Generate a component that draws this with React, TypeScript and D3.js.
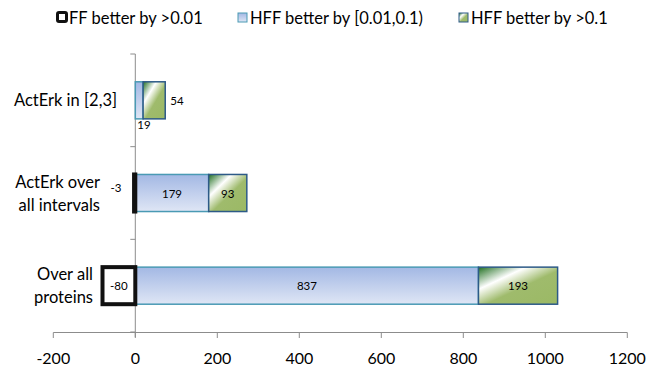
import React from "react";
import * as d3 from "d3";

const categories = ["ActErk in [2,3]", "ActErk over all intervals", "Over all proteins"];
const categoryLines = [["ActErk in [2,3]"], ["ActErk over", "all intervals"], ["Over all", "proteins"]];
const ffValues = [0, -3, -80];
const hffMidValues = [19, 179, 837];
const hffHighValues = [54, 93, 193];
const xTicks = [-200, 0, 200, 400, 600, 800, 1000, 1200];
const seriesNames = ["FF better by >0.01", "HFF better by [0.01,0.1)", "HFF better by >0.1"];

const W = 646, H = 372;
const FONT = "Lato, 'Open Sans', sans-serif";
// label right edges per category (layout)
const labelRight = [117, 100, 93];

export default function App() {
  const x = d3.scaleLinear().domain([-200, 1200]).range([53.3, 627.3]);
  const y = d3.scaleBand<string>().domain(categories).range([54, 332]).paddingInner(0.6).paddingOuter(0.3);
  const bw = y.bandwidth();
  const x0 = x(0);
  return (
    <svg width={W} height={H} style={{ position: "absolute", left: 0, top: 0 }} fontFamily={FONT}>
      <defs>
        <linearGradient id="blueG" x1="0" y1="0" x2="0" y2="1">
          <stop offset="0" stopColor="#a3b8e4" />
          <stop offset="1" stopColor="#dfe6f5" />
        </linearGradient>
        <linearGradient id="greenG" x1="0" y1="0" x2="1" y2="1" gradientUnits="objectBoundingBox">
          <stop offset="0" stopColor="#1f6e1f" />
          <stop offset="0.3" stopColor="#ffffff" />
          <stop offset="0.55" stopColor="#9fbb6c" />
          <stop offset="1" stopColor="#9bb965" />
        </linearGradient>
      </defs>
      {/* axes */}
      <line x1={x0} x2={x0} y1={54} y2={337} stroke="#8c8c8c" strokeWidth={1} />
      {[0, 1, 2, 3].map((i) => {
        const yy = 54 + (i * (332 - 54)) / 3;
        return <line key={i} x1={x0 - 5} x2={x0} y1={yy} y2={yy} stroke="#8c8c8c" />;
      })}
      <line x1={x(-200)} x2={x(1200)} y1={332.5} y2={332.5} stroke="#8c8c8c" />
      {xTicks.map((t) => (
        <g key={t}>
          <line x1={x(t)} x2={x(t)} y1={332.5} y2={338} stroke="#8c8c8c" />
          <text x={x(t)} y={364} textAnchor="middle" fontSize={16} fill="#000">{t}</text>
        </g>
      ))}
      {categories.map((c, i) => {
        const yc = (y(c) as number) + bw / 2;
        const lines = categoryLines[i];
        const lh = 23;
        return lines.map((ln, j) => (
          <text key={c + j} x={labelRight[i]} y={yc + (j - (lines.length - 1) / 2) * lh} textAnchor="end" dominantBaseline="central" fontSize={16.5} fill="#000">{ln}</text>
        ));
      })}
      {/* bars */}
      {categories.map((c, i) => {
        const yt = y(c) as number;
        const ff = ffValues[i], mid = hffMidValues[i], hi = hffHighValues[i];
        const midEnd = x(mid);
        const hiEnd = x(mid + hi);
        return (
          <g key={c}>
            <rect x={x0} y={yt} width={midEnd - x0} height={bw} fill="url(#blueG)" stroke="#4a9ab4" strokeWidth={1.5} />
            <rect x={midEnd} y={yt} width={hiEnd - midEnd} height={bw} fill="url(#greenG)" stroke="#2d5a87" strokeWidth={1.5} />
            {ff !== 0 && (
              <rect x={x(ff)} y={yt} width={x0 - x(ff)} height={bw} fill="#fff" stroke="#111" strokeWidth={4} />
            )}
          </g>
        );
      })}
      {/* data labels */}
      {categories.map((c, i) => {
        const yt = y(c) as number;
        const yc = yt + bw / 2;
        const ff = ffValues[i], mid = hffMidValues[i], hi = hffHighValues[i];
        const midEnd = x(mid);
        const hiEnd = x(mid + hi);
        const items: React.ReactNode[] = [];
        const fs = 11.5;
        if (i === 0) {
          items.push(<text key="m" x={x0 + 2} y={yt + bw + 6} dominantBaseline="central" fontSize={fs}>{mid}</text>);
          items.push(<text key="h" x={hiEnd + 5} y={yc} dominantBaseline="central" fontSize={fs}>{hi}</text>);
        } else {
          items.push(<text key="m" x={(x0 + midEnd) / 2} y={yc} textAnchor="middle" dominantBaseline="central" fontSize={fs}>{mid}</text>);
          items.push(<text key="h" x={(midEnd + hiEnd) / 2} y={yc} textAnchor="middle" dominantBaseline="central" fontSize={fs}>{hi}</text>);
        }
        if (i === 1) {
          items.push(<text key="f" x={x(ff) - 18} y={yc - 6} textAnchor="middle" dominantBaseline="central" fontSize={fs}>{ff}</text>);
        } else if (i === 2) {
          items.push(<text key="f" x={(x(ff) + x0) / 2} y={yc} textAnchor="middle" dominantBaseline="central" fontSize={fs}>{ff}</text>);
        }
        return <g key={c}>{items}</g>;
      })}
      {/* legend */}
      <g>
        <rect x={57.5} y={12.5} width={9} height={9} rx={1.5} fill="#fff" stroke="#111" strokeWidth={3} />
        <text x={69} y={18} dominantBaseline="central" fontSize={16.5}>{seriesNames[0]}</text>
        <rect x={238} y={13} width={9} height={9} fill="url(#blueG)" stroke="#4a9ab4" strokeWidth={1} />
        <text x={250} y={18} dominantBaseline="central" fontSize={16.5}>{seriesNames[1]}</text>
        <rect x={459} y={13} width={9} height={9} fill="url(#greenG)" stroke="#2d5a87" strokeWidth={1} />
        <text x={471} y={18} dominantBaseline="central" fontSize={16.5}>{seriesNames[2]}</text>
      </g>
    </svg>
  );
}
